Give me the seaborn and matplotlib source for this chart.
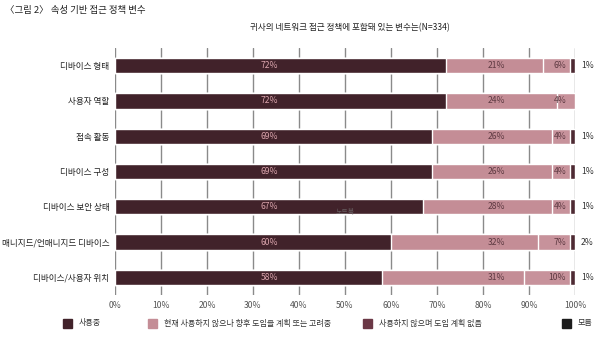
import numpy as np
import pandas as pd
import matplotlib
matplotlib.use("Agg")
import matplotlib.pyplot as plt
from matplotlib.patches import Rectangle
import seaborn as sns

categories = ["디바이스 형태", "사용자 역할", "접속 활동", "디바이스 구성",
              "디바이스 보안 상태", "매니지드/언매니지드 디바이스", "디바이스/사용자 위치"]
using = [72, 72, 69, 69, 67, 60, 58]
planned = [21, 24, 26, 26, 28, 32, 31]
no_plan = [6, 4, 4, 4, 4, 7, 10]
unknown = [1, 0, 1, 1, 1, 2, 1]
ticks = [0, 10, 20, 30, 40, 50, 60, 70, 80, 90, 100]
series_names = ["사용중", "현재 사용하지 않으나 향후 도입을 계획 또는 고려중",
                "사용하지 않으며 도입 계획 없음", "모름"]

sns.set_theme(style="white")
plt.rcParams['font.family'] = ['Noto Sans CJK KR', 'DejaVu Sans']

c_use = "#41222a"
c_plan = "#c48d96"
c_no_bar = "#c7929b"
c_unk_bar = "#4e2a33"
legend_colors = [c_use, "#c48d96", "#6b3846", "#1c1c1c"]

df = pd.DataFrame({"cat": categories, "use": using, "plan": planned,
                   "no": no_plan, "unk": unknown})
df["c1"] = df["use"]
df["c2"] = df["use"] + df["plan"]
df["c3"] = df["c2"] + df["no"]
df["c4"] = np.minimum(df["c3"] + df["unk"], 100)

fig = plt.figure(figsize=(6.0, 3.49), dpi=100)
ax = fig.add_axes([115/600, 1-295/349, 460/600, 247/349])

for tx in ticks:
    ax.axvline(tx, color="#8a8a8a", lw=1.0, zorder=0)

bw = 0.43
sns.barplot(data=df, y="cat", x="c4", color=c_unk_bar, orient="h", width=bw,
            ax=ax, saturation=1, zorder=2)
sns.barplot(data=df, y="cat", x="c3", color=c_no_bar, orient="h", width=bw,
            ax=ax, saturation=1, zorder=3)
sns.barplot(data=df, y="cat", x="c2", color=c_plan, orient="h", width=bw,
            ax=ax, saturation=1, zorder=4)
sns.barplot(data=df, y="cat", x="c1", color=c_use, orient="h", width=bw,
            ax=ax, saturation=1, zorder=5)

for i, r in df.iterrows():
    ax.text(33.5, i, f"{r['use']}%", ha="center", va="center", fontsize=6.2,
            color="#d9a3ab", zorder=10)
    ax.text(83, i, f"{r['plan']}%", ha="center", va="center", fontsize=6.2,
            color="#5e3a42", zorder=10)
    ax.text(98.1, i, f"{r['no']}%", ha="right", va="center", fontsize=6.2,
            color="#5e3a42", zorder=10)
    if r["unk"] > 0:
        ax.text(101.3, i, f"{r['unk']}%", ha="left", va="center", fontsize=6.2,
                color="#333333", zorder=10)

ax.set_xlim(0, 100)
ax.set_ylim(6.5, -0.5)
ax.set_xticks(ticks)
ax.set_xticklabels([f"{t}%" for t in ticks], fontsize=6.2, color="#555555")
ax.tick_params(axis="x", length=0, pad=4)
ax.tick_params(axis="y", length=0, pad=4, labelsize=6.2, labelcolor="#222222")
ax.set_xlabel("")
ax.set_ylabel("")
for s in ax.spines.values():
    s.set_visible(False)

fig.text(345/600, 1-212/349, "노트북", fontsize=5, color="#777777", alpha=0.7,
         ha="center", va="center")

fig.text(5/600, 1-10/349, "〈그림 2〉 속성 기반 접근 정책 변수", fontsize=6.8,
         color="#222222", ha="left", va="center")
fig.text(350/600, 1-28/349, "귀사의 네트워크 접근 정책에 포함돼 있는 변수는(N=334)",
         fontsize=6.2, color="#222222", ha="center", va="center")

leg_x = [63, 148, 363, 562]
leg_y = 1 - 323/349
sq_w, sq_h = 9/600, 9/349
for x, col, name in zip(leg_x, legend_colors, series_names):
    fig.patches.append(Rectangle((x/600, leg_y - sq_h/2), sq_w, sq_h,
                                 transform=fig.transFigure, color=col))
    fig.text((x + 16)/600, leg_y, name, fontsize=5.8, color="#333333",
             ha="left", va="center")

fig.savefig("out.png", dpi=100)
